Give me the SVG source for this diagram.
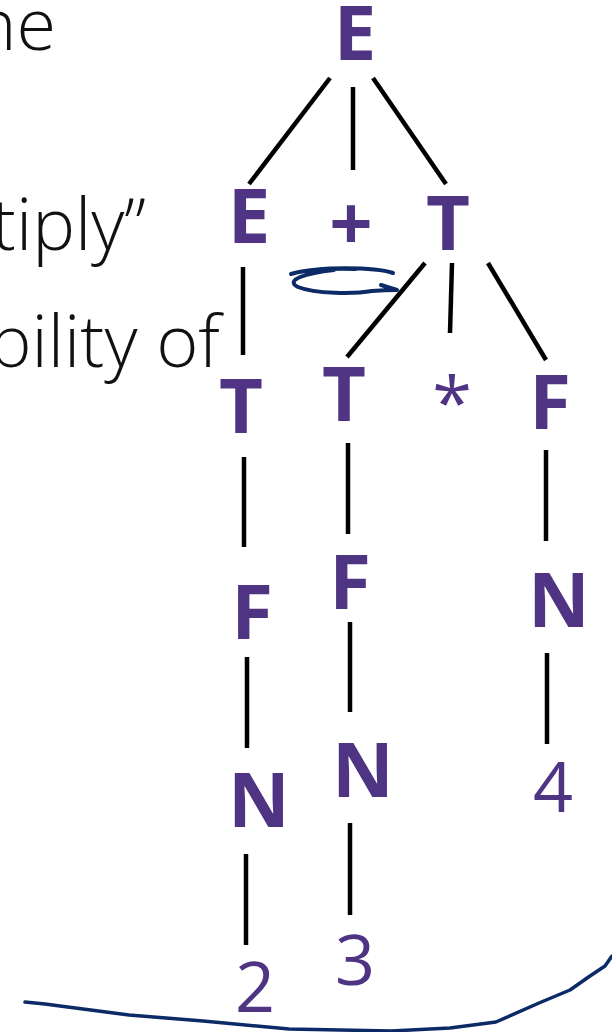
<svg xmlns="http://www.w3.org/2000/svg" width="612" height="1032" viewBox="0 0 612 1032">
<style>
.bg{fill:#fff}
.nt{font-family:"Open Sans","Liberation Sans",sans-serif;font-weight:700;font-size:76px;fill:#4e3483;text-anchor:middle}
.tm{font-family:"Open Sans","Liberation Sans",sans-serif;font-weight:400;font-size:70px;fill:#4e3483;text-anchor:middle}
.ast{font-family:"Open Sans","Liberation Sans",sans-serif;font-weight:400;font-size:72px;fill:#4e3483;text-anchor:middle}
.body{font-family:"Open Sans","Liberation Sans",sans-serif;font-weight:300;font-size:72px;fill:#111;text-anchor:end}
.edge{stroke:#000;stroke-width:4.5;fill:none}
.ink{stroke:#0b2a66;fill:none;stroke-linecap:round;stroke-linejoin:round}
</style>
<rect class="bg" x="0" y="0" width="612" height="1032"/>
<g id="slide-text">
<text class="body" x="56" y="50">ne</text>
<text class="body" x="146" y="250">tiply”</text>
<text class="body" x="220" y="367">bility of</text>
</g>
<g id="connectors">
<line class="edge" x1="330" y1="78" x2="249" y2="184"/>
<line class="edge" x1="353" y1="87" x2="353" y2="170"/>
<line class="edge" x1="373" y1="78" x2="446" y2="184"/>
<line class="edge" x1="243" y1="267" x2="243" y2="355"/>
<line class="edge" x1="425" y1="263" x2="347" y2="357"/>
<line class="edge" x1="452" y1="263" x2="450" y2="333"/>
<line class="edge" x1="488" y1="263" x2="546" y2="360"/>
<line class="edge" x1="244" y1="457" x2="244" y2="547"/>
<line class="edge" x1="348" y1="443" x2="348" y2="534"/>
<line class="edge" x1="546" y1="450" x2="546" y2="541"/>
<line class="edge" x1="247" y1="657" x2="247" y2="748"/>
<line class="edge" x1="350" y1="622" x2="350" y2="712"/>
<line class="edge" x1="547" y1="653" x2="547" y2="744"/>
<line class="edge" x1="246" y1="854" x2="246" y2="945"/>
<line class="edge" x1="350" y1="823" x2="350" y2="915"/>
</g>
<g id="n-E0"><text class="nt" x="355" y="60">E</text></g>
<g id="n-E1"><text class="nt" x="249" y="243">E</text></g>
<g id="n-plus"><text class="nt" x="351" y="250">+</text></g>
<g id="n-T0"><text class="nt" x="448" y="250">T</text></g>
<g id="n-T1"><text class="nt" x="241" y="433">T</text></g>
<g id="n-T2"><text class="nt" x="344" y="421">T</text></g>
<g id="n-star"><text class="ast" x="452" y="428">*</text></g>
<g id="n-F0"><text class="nt" x="550" y="429">F</text></g>
<g id="n-F1"><text class="nt" x="252" y="639">F</text></g>
<g id="n-F2"><text class="nt" x="350" y="609">F</text></g>
<g id="n-N0"><text class="nt" x="559" y="627">N</text></g>
<g id="n-N1"><text class="nt" x="259" y="827">N</text></g>
<g id="n-N2"><text class="nt" x="363" y="797">N</text></g>
<g id="n-4"><text class="tm" x="553" y="812">4</text></g>
<g id="n-3"><text class="tm" x="355" y="985">3</text></g>
<g id="n-2"><text class="tm" x="255" y="1012">2</text></g>
<g id="annotations">
<path class="ink" stroke-width="4" d="M393 273 C375 267 320 266 291 274 C302 270 330 268 356 269 M334 270 C306 273 284 280 298 287 C315 294 355 294 372 291 C384 290 391 290 397 290 L381 285"/>
<path class="ink" stroke-width="3.5" d="M25 1002 L45 1004 L60 1006 L129 1015 L203 1021 L289 1029 L391 1031 L450 1028 L496 1022 L539 1003 L570 990 L590 976 L605 966 L612 956"/>
</g>
</svg>
